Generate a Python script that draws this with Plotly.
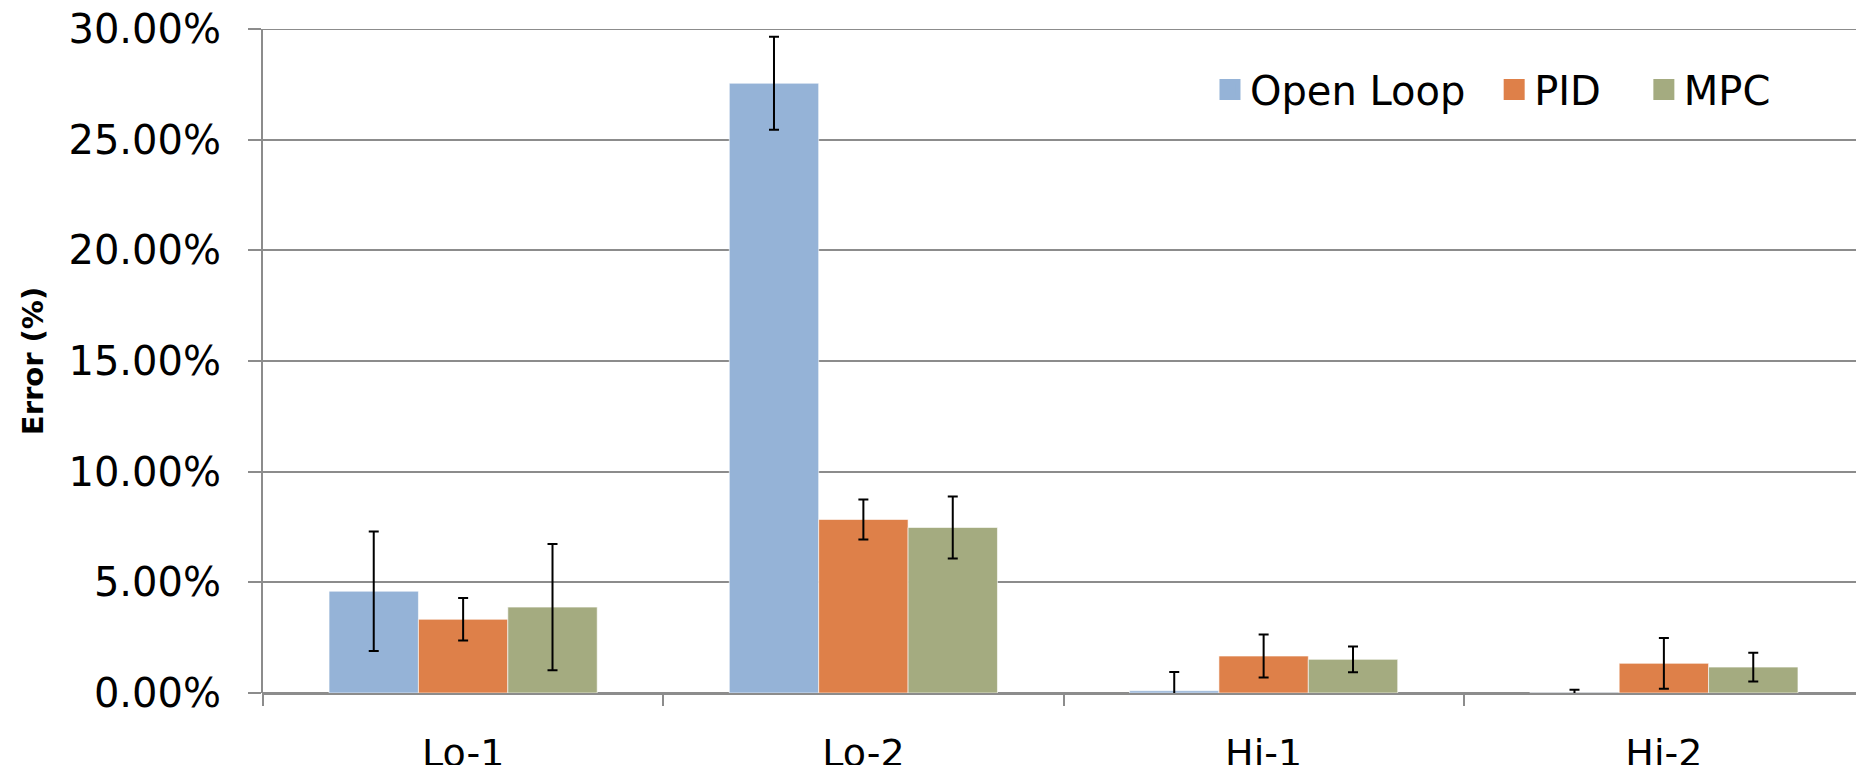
import plotly.graph_objects as go

categories = ["Lo-1", "Lo-2", "Hi-1", "Hi-2"]
open_loop = [4.60, 27.55, 0.10, 0.01]
open_loop_err = [2.70, 2.10, 0.85, 0.14]
pid = [3.33, 7.84, 1.67, 1.34]
pid_err = [0.96, 0.90, 0.97, 1.15]
mpc = [3.88, 7.48, 1.52, 1.17]
mpc_err = [2.85, 1.40, 0.58, 0.65]
tick_vals = [0, 5, 10, 15, 20, 25, 30]
tick_text = ["0.00%", "5.00%", "10.00%", "15.00%", "20.00%", "25.00%", "30.00%"]

FONT = "Century Gothic, URW Gothic, DejaVu Sans, sans-serif"
GRID = "#8c8c8c"

fig = go.Figure()
series = [
    ("Open Loop", open_loop, open_loop_err, "#95b3d7", "legend", ),
    ("PID", pid, pid_err, "#de8049", "legend2"),
    ("MPC", mpc, mpc_err, "#a4ab80", "legend3"),
]
for name, vals, errs, color, leg in series:
    fig.add_trace(go.Bar(
        name=name, x=categories, y=vals, showlegend=False,
        marker=dict(color=color, line=dict(color="rgba(255,255,255,0.6)", width=1)),
        error_y=dict(type="data", array=errs, visible=True, color="black",
                     thickness=2, width=5),
    ))
    # legend-only entry with a larger square swatch
    fig.add_trace(go.Scatter(
        name=name, x=[categories[0]], y=[None], mode="markers", legend=leg,
        marker=dict(symbol="square", size=16, color=color, line=dict(color=color, width=5)),
        hoverinfo="skip",
    ))

leg_common = dict(orientation="h", yanchor="middle", xanchor="left", y=0.909,
                  font=dict(size=40, family=FONT), bgcolor="rgba(0,0,0,0)",
                  itemsizing="trace")

fig.update_layout(
    width=1864, height=765,
    barmode="group", bargap=0.33, bargroupgap=0,
    plot_bgcolor="white", paper_bgcolor="white",
    margin=dict(l=255, r=8, t=21, b=80, autoexpand=False),
    font=dict(family=FONT, color="black"),
    legend=dict(x=0.5915, **leg_common),
    legend2=dict(x=0.769, **leg_common),
    legend3=dict(x=0.8625, **leg_common),
    xaxis=dict(
        showgrid=False, showline=False, ticks="outside", tickson="boundaries",
        ticklen=12, tickwidth=1.5, tickcolor=GRID, automargin=False,
        tickfont=dict(size=38, family=FONT), ticklabelstandoff=34,
        ticklabeloverflow="allow",
    ),
    yaxis=dict(
        range=[0, 30], tickvals=tick_vals, ticktext=tick_text, automargin=False,
        showgrid=True, gridcolor=GRID, gridwidth=2,
        showline=True, linecolor=GRID, linewidth=2,
        ticks="outside", ticklen=13, tickwidth=2, tickcolor=GRID,
        tickfont=dict(size=40, family=FONT), ticklabelstandoff=19,
        ticklabeloverflow="allow",
        zeroline=True, zerolinecolor=GRID, zerolinewidth=3,
        title=dict(text="<b>Error (%)</b>", font=dict(size=29, family=FONT), standoff=16),
    ),
)
# top gridline (30%) spanning the plot, and y-axis line extension below the baseline
fig.add_shape(type="line", xref="paper", yref="y", x0=0, x1=1, y0=tick_vals[-1], y1=tick_vals[-1],
              line=dict(color=GRID, width=2), layer="below")
fig.add_shape(type="line", xref="paper", yref="paper", x0=0, x1=0, y0=0, y1=-0.016,
              line=dict(color=GRID, width=2))

fig.write_html("out.html")
